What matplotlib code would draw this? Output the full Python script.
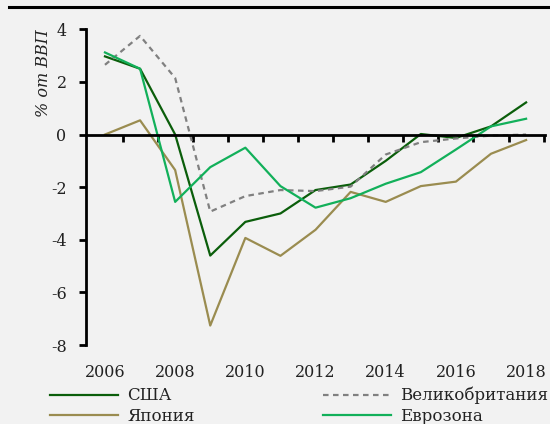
import numpy as np
import matplotlib.pyplot as plt
from matplotlib.lines import Line2D

plt.rcParams['font.family'] = ['DejaVu Serif']
plt.rcParams['axes.unicode_minus'] = False

years = np.arange(2006, 2019)
usa = [2.97, 2.5, 0.0, -4.6, -3.32, -3.0, -2.11, -1.9, -1.0, 0.02, -0.13, 0.31, 1.22]
uk = [2.65, 3.75, 2.15, -2.93, -2.34, -2.11, -2.15, -1.98, -0.76, -0.29, -0.15, -0.04, 0.0]
japan = [0.0, 0.54, -1.35, -7.26, -3.93, -4.61, -3.62, -2.18, -2.56, -1.96, -1.79, -0.73, -0.21]
euro = [3.12, 2.5, -2.56, -1.24, -0.5, -1.96, -2.78, -2.42, -1.87, -1.43, -0.57, 0.31, 0.6]
yticks = [4, 2, 0, -2, -4, -6, -8]
year_labels = [2006, 2008, 2010, 2012, 2014, 2016, 2018]

bg = '#f2f2f2'
fig = plt.figure(figsize=(5.5, 4.24), dpi=100, facecolor=bg)
ax = fig.add_axes([0.1564, 0.1863, 0.991 - 0.1564, 0.9309 - 0.1863])
ax.set_facecolor(bg)

l_us, = ax.plot(years, usa, color='#0b5e0b', lw=1.6, label='США')
l_uk, = ax.plot(years, uk, color='#808080', lw=1.6, ls=(0, (2.5, 2)), label='Великобритания')
l_jp, = ax.plot(years, japan, color='#9a8c50', lw=1.6, label='Япония')
l_eu, = ax.plot(years, euro, color='#12b05a', lw=1.6, label='Еврозона')

ax.set_xlim(2005.46, 2018.54)
ax.set_ylim(-8, 4)

for s in ['top', 'right']:
    ax.spines[s].set_visible(False)
ax.spines['left'].set_linewidth(2)
ax.spines['bottom'].set_position(('data', 0))
ax.spines['bottom'].set_linewidth(2)

ax.set_yticks(yticks)
ax.set_yticklabels([str(v) for v in yticks])
ax.tick_params(axis='y', direction='out', length=5, width=2, pad=9,
               labelsize=11.5, labelcolor='#222222')
ax.set_xticks(np.arange(2006.5, 2019, 1))
ax.tick_params(axis='x', direction='out', length=5, width=2, labelbottom=False)

for yr in year_labels:
    ax.text(yr, -0.088, str(yr), transform=ax.get_xaxis_transform(),
            ha='center', va='center', fontsize=11.5, color='#222222')

ax.text(-0.092, 1.0, '% от ВВП', transform=ax.transAxes, rotation=90,
        ha='center', va='top', fontsize=11.5, style='italic', color='#222222')

fig.add_artist(Line2D([8.5 / 550, 1.0], [1 - 6.5 / 424] * 2, color='black', lw=2.2))

fig.legend(handles=[l_us, l_jp, l_uk, l_eu], ncol=2, frameon=False,
           loc='upper left', bbox_to_anchor=(50 / 550, 1 - 387 / 424),
           borderpad=0, borderaxespad=0, handlelength=4.1, handletextpad=0.55,
           columnspacing=7.65, labelspacing=0.2, fontsize=12,
           labelcolor='#222222')

fig.savefig('out.png', dpi=100, facecolor=bg)
